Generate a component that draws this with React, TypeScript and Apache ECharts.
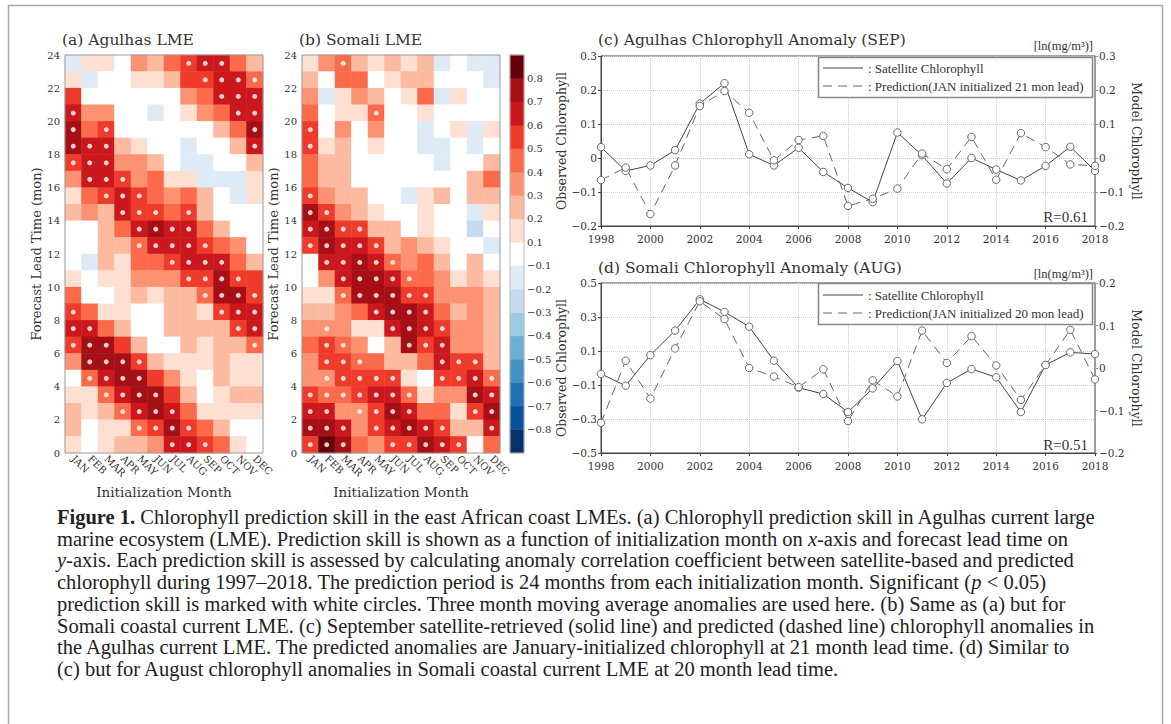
import React, { useEffect, useRef } from "react";
import * as echarts from "echarts";

// ---------- data ----------
const MONTHS = ["JAN", "FEB", "MAR", "APR", "MAY", "JUN", "JUL", "AUG", "SEP", "OCT", "NOV", "DEC"];
const LEADS = ["0", "1", "2", "3", "4", "5", "6", "7", "8", "9", "10", "11", "12", "13", "14", "15", "16", "17", "18", "19", "20", "21", "22", "23"];

// colour-bar swatches (bottom -> top) and the labels at their boundaries
const CBAR_LEVELS = [-0.85, -0.75, -0.65, -0.55, -0.45, -0.35, -0.25, -0.15, 0, 0.15, 0.25, 0.35, 0.45, 0.55, 0.65, 0.75, 0.85];
const CBAR_LABELS = ["−0.8", "−0.7", "−0.6", "−0.5", "−0.4", "−0.3", "−0.2", "−0.1", "0.1", "0.2", "0.3", "0.4", "0.5", "0.6", "0.7", "0.8"];

// (a) Agulhas skill, rows = lead 23 (top) ... lead 0 (bottom), cols = JAN..DEC
const AGULHAS_SKILL = [
  [-0.15, 0.15, 0.15, 0, 0.35, 0.25, 0.45, 0.55, 0.65, 0.65, 0.45, 0.25],
  [0.15, -0.15, 0, 0, 0.15, 0.15, 0.25, 0.55, 0.55, 0.65, 0.65, 0.45],
  [0.55, 0, 0, 0, 0, 0, 0, 0.35, 0.45, 0.65, 0.65, 0.65],
  [0.65, 0.35, 0.35, 0, 0, -0.15, 0, 0.15, 0.35, 0.45, 0.65, 0.65],
  [0.75, 0.45, 0.55, 0, 0, 0, 0, 0, 0, 0.25, 0.45, 0.75],
  [0.75, 0.65, 0.65, 0.25, 0.15, 0, 0, -0.15, 0, 0, 0.25, 0.65],
  [0.55, 0.65, 0.65, 0.35, 0.35, 0.25, 0, -0.15, -0.15, 0, 0, 0.25],
  [0.35, 0.65, 0.65, 0.55, 0.35, 0.45, 0.15, 0.15, -0.15, -0.15, -0.15, 0.15],
  [0.15, 0.45, 0.55, 0.65, 0.55, 0.45, 0.35, 0.45, 0.25, 0, -0.15, 0.15],
  [0.25, 0.35, 0.25, 0.65, 0.55, 0.55, 0.45, 0.55, 0.25, 0, 0, 0],
  [0, 0, 0.25, 0.45, 0.65, 0.75, 0.65, 0.65, 0.45, 0.25, 0, 0],
  [0, 0, 0.25, 0.25, 0.45, 0.65, 0.65, 0.65, 0.55, 0.45, 0.35, 0],
  [0, -0.15, 0.25, 0.15, 0.45, 0.45, 0.55, 0.65, 0.65, 0.65, 0.45, 0.25],
  [0.15, 0, 0.15, 0.15, 0.35, 0.35, 0.35, 0.55, 0.55, 0.75, 0.55, 0.55],
  [0.45, 0, 0, 0.15, 0.25, 0.15, 0.25, 0.25, 0.45, 0.75, 0.75, 0.55],
  [0.55, 0.45, 0.15, 0.15, 0, 0, 0.25, 0.25, 0.15, 0.55, 0.65, 0.65],
  [0.65, 0.65, 0.45, 0.25, 0, 0, 0.25, 0.25, 0.25, 0.25, 0.55, 0.65],
  [0.55, 0.75, 0.75, 0.55, 0.25, 0, 0, 0.25, 0.15, 0.25, 0.25, 0.45],
  [0.35, 0.75, 0.75, 0.75, 0.55, 0.25, 0.15, 0.15, 0.15, 0.25, 0.15, 0.15],
  [0, 0.45, 0.65, 0.75, 0.75, 0.55, 0.35, 0.15, 0, 0.25, 0.15, 0.15],
  [0.15, 0.15, 0.45, 0.65, 0.75, 0.75, 0.55, 0.25, 0, 0.15, 0.25, 0.25],
  [0.25, 0.15, 0.25, 0.45, 0.65, 0.75, 0.65, 0.45, 0.15, 0.15, 0.15, 0.15],
  [0.25, 0, 0.15, 0.15, 0.45, 0.55, 0.75, 0.55, 0.45, 0.25, 0, 0],
  [0.15, 0, 0.15, 0.25, 0.25, 0.35, 0.65, 0.65, 0.55, 0.45, 0.15, 0],
];
// significant cells (column indices), same row order
const AGULHAS_SIG = [
  [7, 8, 9], [8, 9, 10, 11], [9, 10, 11], [0, 10, 11], [0, 2, 11], [0, 1, 2, 11],
  [0, 1, 2], [1, 2, 3], [2, 3, 4], [3, 4, 5, 7], [4, 5, 6, 7], [4, 5, 6, 7, 8],
  [6, 7, 8, 9], [7, 8, 9, 10], [8, 9, 10, 11], [0, 9, 10, 11], [0, 1, 10, 11], [0, 1, 2, 11],
  [1, 2, 3, 4], [1, 2, 3, 4], [2, 3, 4, 5], [3, 4, 5, 6], [4, 5, 6, 7], [6, 7, 8],
];

// (b) Somali skill
const SOMALI_SKILL = [
  [0.15, 0.35, 0.45, 0.25, 0.15, 0.25, 0.15, 0.25, -0.15, 0, -0.15, -0.15],
  [0.25, 0, 0.45, 0.45, 0, 0.15, 0.25, 0.25, 0, 0, 0, -0.15],
  [0.35, -0.15, 0.15, 0.35, 0.25, 0, 0.15, 0.45, -0.15, 0.15, 0, 0],
  [0.45, 0, 0.15, 0.15, 0.45, 0, 0, 0.15, 0, 0, 0, 0],
  [0.55, 0, 0.35, 0, 0.35, 0, 0, -0.15, 0, 0.15, -0.15, 0.15],
  [0.55, 0.15, 0.25, 0, 0.15, 0, 0, -0.15, -0.15, 0, -0.15, 0],
  [0.45, 0.25, 0.25, 0, 0, 0, 0, 0, -0.15, 0, 0, 0.25],
  [0.45, 0.25, 0.25, 0, 0, 0, 0, 0, 0, 0, 0.25, 0.45],
  [0.55, 0.35, 0.25, 0.25, 0, 0, -0.15, 0.15, 0.25, 0, 0.25, 0.25],
  [0.75, 0.55, 0.35, 0.25, 0.15, 0, 0, 0.15, 0, 0, -0.15, 0.15],
  [0.65, 0.75, 0.55, 0.55, 0.25, 0.25, 0, 0.15, 0, 0, -0.25, 0],
  [0.55, 0.75, 0.65, 0.65, 0.55, 0.25, 0.35, 0.25, 0.15, 0, 0, -0.15],
  [0, 0.65, 0.65, 0.75, 0.65, 0.45, 0.35, 0.45, 0.25, 0, 0.25, 0],
  [0, 0.35, 0.65, 0.75, 0.75, 0.65, 0.45, 0.45, 0.35, 0.15, 0.25, 0.15],
  [0.15, 0.15, 0.45, 0.75, 0.75, 0.75, 0.55, 0.55, 0.35, 0.35, 0.35, 0.25],
  [0.25, 0.25, 0.35, 0.45, 0.65, 0.75, 0.75, 0.65, 0.45, 0.25, 0.35, 0.25],
  [0.35, 0.35, 0.35, 0.15, 0.15, 0.65, 0.75, 0.65, 0.55, 0.35, 0.35, 0.25],
  [0.45, 0.55, 0.45, 0.35, 0, 0.25, 0.75, 0.55, 0.65, 0.35, 0.35, 0.25],
  [0.35, 0.55, 0.55, 0.45, 0.45, 0.25, 0.25, 0.45, 0.65, 0.55, 0.55, 0.25],
  [0.35, 0.35, 0.55, 0.55, 0.55, 0.55, 0.15, 0, 0.55, 0.55, 0.65, 0.45],
  [0.55, 0.45, 0.45, 0.55, 0.65, 0.65, 0.45, 0.15, 0.35, 0.35, 0.75, 0.65],
  [0.65, 0.65, 0.35, 0.35, 0.55, 0.75, 0.65, 0.45, 0.45, 0.15, 0.55, 0.75],
  [0.75, 0.75, 0.65, 0.35, 0.55, 0.65, 0.75, 0.65, 0.55, 0.25, 0.25, 0.65],
  [0.55, 0.85, 0.75, 0.45, 0.35, 0.55, 0.55, 0.75, 0.65, 0.55, 0, 0.45],
];
const SOMALI_SIG = [
  [2], [], [], [4], [0], [0], [], [], [0], [0, 1], [0, 1, 2, 3], [0, 1, 2, 3, 4],
  [1, 2, 3, 4, 5], [2, 3, 4, 5, 6], [2, 3, 4, 5, 6, 7], [4, 5, 6, 7], [1, 5, 6, 7, 8], [1, 2, 6, 7, 8],
  [1, 2, 3, 8, 9, 10], [1, 2, 3, 4, 5, 8, 9, 10, 11], [0, 1, 2, 3, 4, 5, 6, 10, 11],
  [0, 1, 3, 4, 5, 6, 10, 11], [0, 1, 2, 4, 5, 6, 7, 8, 11], [0, 1, 2, 5, 6, 7, 8, 9],
];

// (c), (d) time series
const YEARS = [1998, 1999, 2000, 2001, 2002, 2003, 2004, 2005, 2006, 2007, 2008, 2009, 2010, 2011, 2012, 2013, 2014, 2015, 2016, 2017, 2018];
const AGULHAS_SAT = [0.032, -0.038, -0.022, 0.023, 0.16, 0.22, 0.011, -0.022, 0.03, -0.041, -0.088, -0.13, 0.075, 0.008, -0.075, 0.0, -0.034, -0.066, -0.023, 0.033, -0.038];
const AGULHAS_PRED = [-0.065, -0.028, -0.165, -0.022, 0.153, 0.197, 0.133, -0.007, 0.053, 0.065, -0.141, -0.12, -0.09, 0.013, -0.033, 0.062, -0.064, 0.073, 0.032, -0.019, -0.023];
const SOMALI_SAT = [-0.035, -0.104, 0.076, 0.22, 0.404, 0.33, 0.243, 0.043, -0.116, -0.153, -0.259, -0.12, 0.041, -0.302, -0.088, -0.006, -0.055, -0.259, 0.018, 0.092, 0.082];
const SOMALI_PRED = [-0.129, 0.017, -0.072, 0.046, 0.157, 0.115, 0.0, -0.02, -0.045, -0.003, -0.125, -0.029, -0.067, 0.088, 0.012, 0.075, 0.006, -0.075, 0.007, 0.09, -0.027];

const CAPTION = [
  "{b|Figure 1.} Chlorophyll prediction skill in the east African coast LMEs. (a) Chlorophyll prediction skill in Agulhas current large",
  "marine ecosystem (LME). Prediction skill is shown as a function of initialization month on {i|x}-axis and forecast lead time on",
  "{i|y}-axis. Each prediction skill is assessed by calculating anomaly correlation coefficient between satellite-based and predicted",
  "chlorophyll during 1997–2018. The prediction period is 24 months from each initialization month. Significant ({i|p} < 0.05)",
  "prediction skill is marked with white circles. Three month moving average anomalies are used here. (b) Same as (a) but for",
  "Somali coastal current LME. (c) September satellite-retrieved (solid line) and predicted (dashed line) chlorophyll anomalies in",
  "the Agulhas current LME. The predicted anomalies are January-initialized chlorophyll at 21 month lead time. (d) Similar to",
  "(c) but for August chlorophyll anomalies in Somali coastal current LME at 20 month lead time.",
];

// ---------- styling ----------
const GF = "DejaVu Serif";
const SF = "Liberation Serif";
const TXT = "#333";
const CAP_SIZE = 20.5;

const PIECES = [
  { gte: 0.8, color: "#67000d" },
  { gte: 0.7, lt: 0.8, color: "#a50f15" },
  { gte: 0.6, lt: 0.7, color: "#cb181d" },
  { gte: 0.5, lt: 0.6, color: "#ef3b2c" },
  { gte: 0.4, lt: 0.5, color: "#fb6a4a" },
  { gte: 0.3, lt: 0.4, color: "#fc9272" },
  { gte: 0.2, lt: 0.3, color: "#fcbba1" },
  { gte: 0.1, lt: 0.2, color: "#fee0d2" },
  { gt: -0.1, lt: 0.1, color: "#ffffff" },
  { gt: -0.2, lte: -0.1, color: "#deebf7" },
  { gt: -0.3, lte: -0.2, color: "#c6dbef" },
  { gt: -0.4, lte: -0.3, color: "#9ecae1" },
  { gt: -0.5, lte: -0.4, color: "#6baed6" },
  { gt: -0.6, lte: -0.5, color: "#4292c6" },
  { gt: -0.7, lte: -0.6, color: "#2171b5" },
  { gt: -0.8, lte: -0.7, color: "#08519c" },
  { lte: -0.8, color: "#08306b" },
];

const fmt1 = (v: number) => {
  const r = Math.round(v * 10) / 10;
  if (r === 0) return "0";
  return (r < 0 ? "−" : "") + Math.abs(r).toFixed(1);
};

const heatData = (rows: number[][]) =>
  rows.flatMap((row, r) => row.map((v, c) => [c, rows.length - 1 - r, v]));
const dotData = (sig: number[][]) =>
  sig.flatMap((cols, r) => cols.map((c) => [c, sig.length - 1 - r]));

const HM = [
  { left: 65, top: 55, width: 198, height: 398 },
  { left: 302, top: 55, width: 198, height: 398 },
];
const CB = { left: 510, top: 55, width: 14, height: 398 };
const LC = [
  { left: 601, top: 56, width: 494, height: 170 },
  { left: 601, top: 283, width: 494, height: 170 },
];

function buildOption() {
  const monthAxis = (gridIndex: number) => ({
    type: "category",
    gridIndex,
    data: MONTHS,
    boundaryGap: true,
    axisLine: { show: false },
    axisTick: { show: false },
    axisLabel: { rotate: -45, interval: 0, fontFamily: GF, fontSize: 10, color: TXT, margin: 4 },
    name: "Initialization Month",
    nameLocation: "middle",
    nameGap: 26,
    nameTextStyle: { fontFamily: GF, fontSize: 13.5, color: TXT },
  });
  const leadCat = (gridIndex: number) => ({
    type: "category", gridIndex, data: LEADS, show: false, position: "left",
  });
  const leadVal = (gridIndex: number) => ({
    type: "value", gridIndex, min: 0, max: 24, interval: 2, position: "left",
    axisLine: { show: false }, axisTick: { show: false }, splitLine: { show: false },
    axisLabel: { fontFamily: GF, fontSize: 10, color: TXT, margin: 5 },
    name: "Forecast Lead Time (mon)", nameLocation: "middle", nameGap: 16,
    nameTextStyle: { fontFamily: GF, fontSize: 13, color: TXT },
  });
  const yearAxis = (gridIndex: number) => ({
    type: "value", gridIndex, min: 1998, max: 2018, interval: 2,
    axisLine: { show: true, onZero: false, lineStyle: { color: "#444" } },
    axisTick: { show: true, length: 3, lineStyle: { color: "#444" } },
    axisLabel: { fontFamily: GF, fontSize: 10.5, color: TXT, margin: 7, formatter: (v: number) => String(v) },
    splitLine: { show: true, lineStyle: { type: "dotted", color: "#cfcfcf" } },
  });
  const leftAxis = (gridIndex: number, min: number, max: number, interval: number) => ({
    type: "value", gridIndex, min, max, interval, position: "left",
    axisLine: { show: true, onZero: false, lineStyle: { color: "#444" } },
    axisTick: { show: true, length: 3, lineStyle: { color: "#444" } },
    axisLabel: { fontFamily: GF, fontSize: 10.5, color: TXT, margin: 4, formatter: fmt1 },
    splitLine: { show: true, lineStyle: { type: "dotted", color: "#cfcfcf" } },
    name: "Observed Chlorophyll", nameLocation: "middle", nameGap: 28,
    nameTextStyle: { fontFamily: GF, fontSize: 12.5, color: TXT },
  });
  const rightAxis = (gridIndex: number, min: number, max: number, interval: number) => ({
    type: "value", gridIndex, min, max, interval, position: "right",
    axisLine: { show: true, onZero: false, lineStyle: { color: "#999" } },
    axisTick: { show: true, length: 3, lineStyle: { color: "#999" } },
    axisLabel: { fontFamily: GF, fontSize: 10.5, color: TXT, margin: 4, formatter: fmt1 },
    splitLine: { show: false },
    name: "Model Chlorophyll", nameLocation: "middle", nameGap: 35, nameRotate: -90,
    nameTextStyle: { fontFamily: GF, fontSize: 12.5, color: TXT },
  });

  const lineSeries = (xAxisIndex: number, yAxisIndex: number, vals: number[], dashed: boolean, name: string) => ({
    type: "line", name, xAxisIndex, yAxisIndex,
    data: YEARS.map((y, i) => [y, vals[i]]),
    symbol: "circle", symbolSize: 7.5,
    itemStyle: { color: "#fff", borderColor: "#6a6a6a", borderWidth: 1 },
    lineStyle: { color: dashed ? "#666" : "#444", width: 1, type: dashed ? [9, 6] : "solid" },
    silent: true,
  });

  const graphics: any[] = [];
  const z = 100;
  graphics.push({ type: "rect", z, silent: true, shape: { x: 8.5, y: 5.5, width: 1154, height: 760 }, style: { fill: "none", stroke: "#a8a8a8", lineWidth: 1.5 } });
  HM.forEach((g) =>
    graphics.push({ type: "rect", z, silent: true, shape: { x: g.left, y: g.top, width: g.width, height: g.height }, style: { fill: "none", stroke: "#9a9a9a", lineWidth: 1 } })
  );
  graphics.push({ type: "rect", z, silent: true, shape: { x: CB.left, y: CB.top, width: CB.width, height: CB.height }, style: { fill: "none", stroke: "#bbb", lineWidth: 1 } });

  const text = (x: number, y: number, t: string, font: string, size: number, align = "left", extra: any = {}) => ({
    type: "text", z, silent: true, x, y,
    style: { text: t, fontFamily: font, fontSize: size, fill: TXT, align, verticalAlign: "middle", textAlign: align, textVerticalAlign: "middle", ...extra },
  });
  graphics.push(text(62, 40, "(a) Agulhas LME", GF, 15.5));
  graphics.push(text(299, 40, "(b) Somali LME", GF, 15.5));
  graphics.push(text(598, 40, "(c) Agulhas Chlorophyll Anomaly (SEP)", GF, 15.5));
  graphics.push(text(598, 268, "(d) Somali Chlorophyll Anomaly (AUG)", GF, 15.5));
  graphics.push(text(1093, 46, "[ln(mg/m³)]", SF, 12.5, "right"));
  graphics.push(text(1093, 274, "[ln(mg/m³)]", SF, 12.5, "right"));
  graphics.push(text(1088, 217, "R=0.61", SF, 15, "right"));
  graphics.push(text(1088, 445, "R=0.51", SF, 15, "right"));

  const legend = (top: number, h: number, r1: number, r2: number, lead: string) => {
    graphics.push({ type: "rect", z, silent: true, shape: { x: 818.5, y: top + 0.5, width: 274, height: h }, style: { fill: "#fff", stroke: "#8a8a8a", lineWidth: 1.6 } });
    graphics.push({ type: "line", z: z + 1, silent: true, shape: { x1: 823, y1: r1, x2: 863, y2: r1 }, style: { stroke: "#444", lineWidth: 1 } });
    graphics.push({ type: "line", z: z + 1, silent: true, shape: { x1: 823, y1: r2, x2: 863, y2: r2 }, style: { stroke: "#666", lineWidth: 1, lineDash: [9, 6] } });
    graphics.push({ ...text(868, r1, ": Satellite Chlorophyll", SF, 13), z: z + 1 });
    graphics.push({ ...text(868, r2, ": Prediction(JAN initialized " + lead + " mon lead)", SF, 13), z: z + 1 });
  };
  legend(57, 40, 68, 86, "21");
  legend(283, 41, 295, 313, "20");

  CAPTION.forEach((line, i) => {
    graphics.push({
      type: "text", z, silent: true, x: 57, y: 517 + 21.7 * i,
      style: {
        text: line, fontFamily: SF, fontSize: CAP_SIZE, fill: "#222", verticalAlign: "middle", textVerticalAlign: "middle",
        rich: {
          b: { fontFamily: SF, fontSize: CAP_SIZE, fontWeight: "bold", fill: "#222" },
          i: { fontFamily: SF, fontSize: CAP_SIZE, fontStyle: "italic", fill: "#222" },
        },
      },
    });
  });

  return {
    animation: false,
    backgroundColor: "#fff",
    textStyle: { fontFamily: GF },
    grid: [
      { ...HM[0], containLabel: false },
      { ...HM[1], containLabel: false },
      { ...CB, containLabel: false },
      { ...LC[0], show: true, borderColor: "#444", borderWidth: 1, containLabel: false },
      { ...LC[1], show: true, borderColor: "#444", borderWidth: 1, containLabel: false },
    ],
    xAxis: [
      monthAxis(0),
      monthAxis(1),
      { type: "category", gridIndex: 2, data: ["cb"], show: false },
      yearAxis(3),
      yearAxis(4),
    ],
    yAxis: [
      leadCat(0), // 0
      leadVal(0), // 1
      leadCat(1), // 2
      leadVal(1), // 3
      { type: "category", gridIndex: 2, data: CBAR_LEVELS.map(String), show: false }, // 4
      {
        type: "value", gridIndex: 2, min: 0, max: CBAR_LEVELS.length, interval: 1, position: "right",
        axisLine: { show: false }, axisTick: { show: false }, splitLine: { show: false },
        axisLabel: {
          fontFamily: GF, fontSize: 10, color: TXT, margin: 3,
          formatter: (v: number) => (v >= 1 && v <= CBAR_LABELS.length ? CBAR_LABELS[Math.round(v) - 1] : ""),
        },
      }, // 5
      leftAxis(3, -0.2, 0.3, 0.1), // 6
      rightAxis(3, -0.2, 0.3, 0.1), // 7
      leftAxis(4, -0.5, 0.5, 0.2), // 8
      rightAxis(4, -0.2, 0.2, 0.1), // 9
    ],
    visualMap: {
      type: "piecewise", show: false, dimension: 2, seriesIndex: [0, 2, 4], pieces: PIECES,
    },
    series: [
      { type: "heatmap", xAxisIndex: 0, yAxisIndex: 0, data: heatData(AGULHAS_SKILL), silent: true, itemStyle: { borderWidth: 0 } },
      { type: "scatter", xAxisIndex: 0, yAxisIndex: 0, data: dotData(AGULHAS_SIG), symbol: "circle", symbolSize: 5, itemStyle: { color: "#fff" }, silent: true, z: 5 },
      { type: "heatmap", xAxisIndex: 1, yAxisIndex: 2, data: heatData(SOMALI_SKILL), silent: true, itemStyle: { borderWidth: 0 } },
      { type: "scatter", xAxisIndex: 1, yAxisIndex: 2, data: dotData(SOMALI_SIG), symbol: "circle", symbolSize: 5, itemStyle: { color: "#fff" }, silent: true, z: 5 },
      { type: "heatmap", xAxisIndex: 2, yAxisIndex: 4, data: CBAR_LEVELS.map((v, i) => [0, i, v]), silent: true, itemStyle: { borderWidth: 0 } },
      lineSeries(3, 6, AGULHAS_SAT, false, "Satellite Chlorophyll"),
      lineSeries(3, 7, AGULHAS_PRED, true, "Prediction"),
      lineSeries(4, 8, SOMALI_SAT, false, "Satellite Chlorophyll"),
      lineSeries(4, 9, SOMALI_PRED, true, "Prediction"),
    ],
    graphic: graphics,
  };
}

export default function App() {
  const ref = useRef<HTMLDivElement>(null);
  useEffect(() => {
    if (!ref.current) return;
    const chart = echarts.init(ref.current, undefined, { renderer: "svg" });
    chart.setOption(buildOption() as any);
    return () => chart.dispose();
  }, []);
  return (
    <div
      ref={ref}
      style={{ position: "absolute", left: 0, top: 0, width: 1171, height: 724, background: "#fff" }}
    />
  );
}
